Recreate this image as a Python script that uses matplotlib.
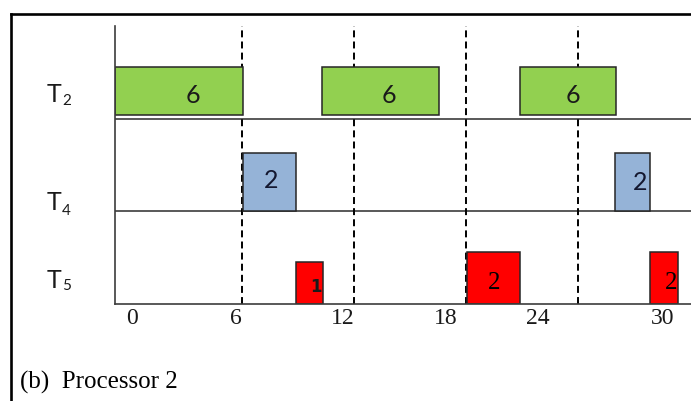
import matplotlib
matplotlib.use("Agg")
import matplotlib.pyplot as plt
from matplotlib.lines import Line2D

plt.rcParams['lines.scale_dashes'] = False

# ---------------- data (time units) ----------------
tasks = ['T2', 'T4', 'T5']
task_subs = ['2', '4', '5']

t2_start = [-0.80, 10.30, 20.89]
t2_end = [6.08, 16.57, 26.02]
t2_labels = ['6', '6', '6']

t4_start = [6.05, 26.00]
t4_end = [8.91, 27.84]
t4_labels = ['2', '2']

t5_start = [8.91, 18.04, 27.86]
t5_end = [10.32, 20.90, 29.36]
t5_labels = ['1', '2', '2']

period_marks = [6, 12, 18, 24]
tick_labels = ['0', '6', '12', '18', '24', '30']
caption = '(b)  Processor 2'

# ---------------- layout / style ----------------
tick_pos = [0.11, 5.68, 11.41, 16.93, 21.85, 28.55]
t2_label_x = [3.38, 13.88, 23.73]
t4_label_x = [7.55, 27.32]
t5_label_x = [9.96, 19.50, 28.98]

GREEN = '#92D050'
BLUE = '#95B3D7'
RED = '#FF0000'
EDGE = '#262626'
LINE = '#3c3c3c'
TXT = '#1a1a1a'

W, H = 691, 401
fig = plt.figure(figsize=(W / 100, H / 100), dpi=100)
ax = fig.add_axes([115 / W, 1 - 304 / H, (W - 115) / W, (304 - 26) / H])
ax.set_xlim(-0.80, 30.05)
ax.set_ylim(0, 3)

for s in ['top', 'right']:
    ax.spines[s].set_visible(False)
for s in ['left', 'bottom']:
    ax.spines[s].set_color(LINE)
    ax.spines[s].set_linewidth(1.2)
ax.set_yticks([])

for yl in [1, 2]:
    ax.axhline(yl, color=LINE, lw=1.2, zorder=1)

ax.vlines(period_marks, 0, 3, colors='black', lw=1.4,
          linestyles=[(0, (5, 3))], zorder=1)

# bars
def draw(starts, ends, bottom, heights, color):
    rects = []
    for s, e, h in zip(starts, ends, heights):
        r = ax.bar(s, h, width=e - s, bottom=bottom, align='edge',
                   color=color, edgecolor=EDGE, linewidth=1.1, zorder=2)
        rects.append(r[0])
    return rects

r2 = draw(t2_start, t2_end, 2.04, [0.52] * 3, GREEN)
r4 = draw(t4_start, t4_end, 1.0, [0.63] * 2, BLUE)
r5 = draw(t5_start, t5_end, 0.0, [0.45, 0.56, 0.56], RED)

for x, lab in zip(t2_label_x, t2_labels):
    ax.text(x, 2.169, lab, ha='center', va='baseline', fontsize=18,
            family='Lato', color=TXT, zorder=3)
for x, lab, yb in zip(t4_label_x, t4_labels, [1.252, 1.230]):
    ax.text(x, yb, lab, ha='center', va='baseline', fontsize=18,
            family='Lato', color='#141830', zorder=3)
for i, (x, lab) in enumerate(zip(t5_label_x, t5_labels)):
    if lab == '1':
        ax.text(x, 0.129, lab, ha='center', va='baseline', fontsize=12,
                family='DejaVu Sans', weight='bold', color=TXT, zorder=3)
    else:
        t = ax.text(x, 0.162, lab, ha='center', va='baseline', fontsize=18,
                    family='Liberation Serif', color='black', zorder=3)
        t.set_clip_path(r5[i])

# row labels
row_base = [2.18, 1.014, 0.173]
sub_base = [2.147, 0.96, 0.151]
for name, sub, yb, ys in zip(tasks, task_subs, row_base, sub_base):
    ax.text(-4.45, yb, name[0], ha='left', va='baseline', fontsize=18,
            family='Lato', color=TXT, clip_on=False)
    ax.text(-3.64, ys, sub, ha='left', va='baseline', fontsize=11,
            family='Lato', color=TXT, clip_on=False)

ax.set_xticks(tick_pos)
ax.set_xticklabels(tick_labels, family='Liberation Serif', fontsize=17,
                   color=TXT)
ax.tick_params(axis='x', length=0, pad=3)

fig.text(20 / W, 1 - 389 / H, caption, ha='left', va='baseline',
         fontsize=18, family='Liberation Serif', color='black')

# outer frame (top and left)
fig.add_artist(Line2D([11 / W, 1], [1 - 13.5 / H] * 2, color='black',
                      lw=1.9, transform=fig.transFigure))
fig.add_artist(Line2D([11 / W] * 2, [0, 1 - 13.5 / H], color='black',
                      lw=1.9, transform=fig.transFigure))

fig.savefig('out.png', dpi=100)
